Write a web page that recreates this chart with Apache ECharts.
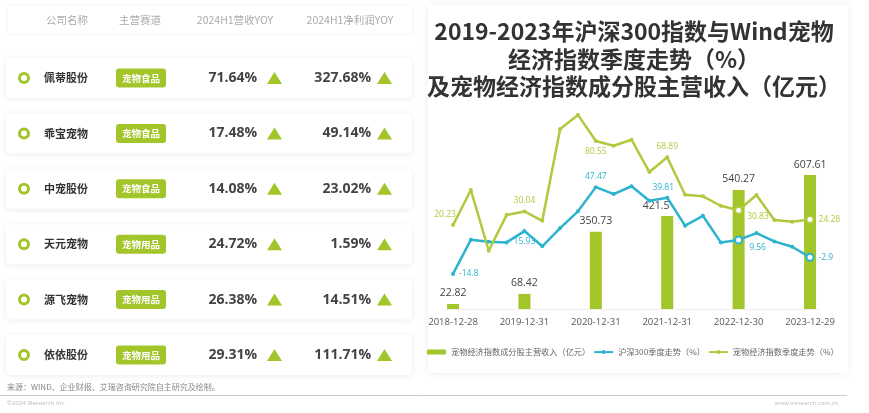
<!DOCTYPE html>
<html><head><meta charset="utf-8">
<script src="https://cdn.jsdelivr.net/npm/echarts@6/dist/echarts.min.js"></script>
<style>html,body{margin:0;padding:0;background:#fff}#c{width:869px;height:413px}</style>
</head><body><div id="c"></div>
<script>
// ---- Table data ----
const headers = ['公司名称', '主营赛道', '2024H1营收YOY', '2024H1净利润YOY'];
const companies = ['佩蒂股份', '乖宝宠物', '中宠股份', '天元宠物', '源飞宠物', '依依股份'];
const tracks = ['宠物食品', '宠物食品', '宠物食品', '宠物用品', '宠物用品', '宠物用品'];
const revenueYoy = [71.64, 17.48, 14.08, 24.72, 26.38, 29.31];
const profitYoy = [327.68, 49.14, 23.02, 1.59, 14.51, 111.71];

// ---- Chart data ----
const titleLines = ['2019-2023年沪深300指数与Wind宠物', '经济指数季度走势（%）', '及宠物经济指数成分股主营收入（亿元）'];
const dates = ['2018-12-28', '2019-03-29', '2019-06-28', '2019-09-30', '2019-12-31',
  '2020-03-31', '2020-06-30', '2020-09-30', '2020-12-31',
  '2021-03-31', '2021-06-30', '2021-09-30', '2021-12-31',
  '2022-03-31', '2022-06-30', '2022-09-30', '2022-12-30',
  '2023-03-31', '2023-06-30', '2023-09-28', '2023-12-29'];
const revenue = [22.82, '-', '-', '-', 68.42, '-', '-', '-', 350.73, '-', '-', '-', 421.5, '-', '-', '-', 540.27, '-', '-', '-', 607.61];
const csi300 = [-14.8, 9.7, 8.3, 7.8, 15.93, 5.0, 18.1, 30.1, 47.47, 42.5, 48.1, 37.7, 39.81, 19.8, 26.9, 7.8, 9.56, 14.5, 8.5, 4.7, -2.9];
const petIndex = [20.23, 45.4, 1.8, 27.4, 30.04, 23.3, 89.2, 99.3, 80.55, 77.2, 81.5, 58.3, 68.89, 42.0, 40.9, 34.1, 30.83, 41.8, 23.9, 22.6, 24.28];
const seriesNames = ['宠物经济指数成分股主营收入（亿元）', '沪深300季度走势（%）', '宠物经济指数季度走势（%）'];
const sourceText = '来源：WIND、企业财报、艾瑞咨询研究院自主研究及绘制。';
const copyrightText = '©2024 iResearch Inc.';
const siteText = 'www.iresearch.com.cn';

// ---- Styles ----
const GREEN = '#a2c52a';
const LINE_GREEN = '#b2c83f';
const BLUE = '#2bb3cf';
const CJK = '"Noto Sans CJK SC", "Noto Sans", sans-serif';
const NUM = '"Open Sans", "Noto Sans", sans-serif';

const blueLabels = {0: {position: 'right'}, 4: {position: 'bottom'}, 8: {position: 'top'}, 12: {position: 'top', offset: [-4, 0]}, 16: {position: 'right', offset: [2, 8]}, 20: {position: 'right'}};
const greenLabels = {0: {position: 'top', offset: [-8, 0]}, 4: {position: 'top'}, 8: {position: 'bottom'}, 12: {position: 'top'}, 16: {position: 'right', offset: [0, 6]}, 20: {position: 'right'}};
const hollow = [16, 20];

function lineData(arr, labels, color) {
  return arr.map((v, i) => {
    const item = {value: v};
    if (labels[i]) item.label = Object.assign({show: true, color: color, fontSize: 8.5, fontFamily: NUM, distance: 4}, labels[i]);
    if (hollow.indexOf(i) >= 0) { item.symbol = 'emptyCircle'; item.symbolSize = 7; }
    return item;
  });
}

const chart = echarts.init(document.getElementById('c'), null, {renderer: 'canvas'});

function renderRow(params, api) {
  const i = api.value(1);
  const y = api.coord([0, i])[1];
  const tri = (cx) => ({type: 'polygon', shape: {points: [[cx - 7.5, y + 6], [cx + 7.5, y + 6], [cx, y - 6]]}, style: {fill: GREEN}});
  return {
    type: 'group',
    children: [
      {type: 'rect', shape: {x: 6, y: y - 20, width: 406, height: 40, r: 4}, style: {fill: '#fff', shadowBlur: 6, shadowColor: 'rgba(0,0,0,0.08)', shadowOffsetY: 1}},
      {type: 'circle', shape: {cx: 24, cy: y, r: 4.5}, style: {fill: '#fff', stroke: GREEN, lineWidth: 3}},
      {type: 'text', style: {text: companies[i], x: 66, y: y, align: 'center', verticalAlign: 'middle', fill: '#333', font: 'bold 11px ' + CJK}},
      {type: 'rect', shape: {x: 116, y: y - 9.5, width: 50, height: 19, r: 3}, style: {fill: GREEN}},
      {type: 'text', style: {text: tracks[i], x: 141, y: y, align: 'center', verticalAlign: 'middle', fill: '#fff', font: 'bold 9.5px ' + CJK}},
      {type: 'text', style: {text: revenueYoy[i].toFixed(2) + '%', x: 257, y: y, align: 'right', verticalAlign: 'middle', fill: '#444', font: 'bold 14px ' + NUM}},
      tri(274.5),
      {type: 'text', style: {text: profitYoy[i].toFixed(2) + '%', x: 371, y: y, align: 'right', verticalAlign: 'middle', fill: '#444', font: 'bold 14px ' + NUM}},
      tri(384.5)
    ]
  };
}

const headerX = [67, 140, 235, 350];

const option = {
  animation: false,
  backgroundColor: '#fff',
  textStyle: {fontFamily: CJK},
  graphic: [
    {type: 'rect', shape: {x: 428, y: 5, width: 420, height: 368}, style: {fill: '#fff', shadowBlur: 8, shadowColor: 'rgba(0,0,0,0.07)'}},
    {type: 'rect', shape: {x: 8, y: 6, width: 404, height: 27}, style: {fill: '#fff', shadowBlur: 5, shadowColor: 'rgba(0,0,0,0.07)'}},
    ...headers.map((h, k) => ({type: 'text', style: {text: h, x: headerX[k], y: 20, align: 'center', verticalAlign: 'middle', fill: '#aaa', font: '10.5px ' + CJK}})),
    {type: 'text', style: {text: titleLines.join('\n'), x: 634, y: 18, align: 'center', verticalAlign: 'top', fill: '#333', font: 'bold 23px ' + CJK, lineHeight: 27.5}},
    {type: 'line', shape: {x1: 0, y1: 395.5, x2: 847, y2: 395.5}, style: {stroke: '#ccc', lineWidth: 1}},
    {type: 'text', style: {text: sourceText, x: 7, y: 387, align: 'left', verticalAlign: 'middle', fill: '#888', font: '8px ' + CJK}},
    {type: 'text', style: {text: copyrightText, x: 7, y: 403.5, align: 'left', verticalAlign: 'middle', fill: '#bbb', font: '6px ' + NUM}},
    {type: 'text', style: {text: siteText, x: 838, y: 403, align: 'right', verticalAlign: 'middle', fill: '#bbb', font: '6px ' + NUM}}
  ],
  legend: {
    data: seriesNames,
    left: 422, top: 343, width: 440,
    itemWidth: 19, itemHeight: 5, itemGap: 3,
    textStyle: {fontSize: 8.2, color: '#666'}
  },
  grid: [
    {left: 444.1, width: 374.85, top: 100, bottom: 104},
    {left: 0, width: 420, top: 50.3, height: 332.4}
  ],
  xAxis: [
    {type: 'category', gridIndex: 0, data: dates, boundaryGap: true,
      axisTick: {show: false}, axisLine: {lineStyle: {color: '#eee'}},
      axisLabel: {interval: 3, color: '#555', fontSize: 9.5, fontFamily: NUM, margin: 8}},
    {type: 'value', gridIndex: 1, min: 0, max: 1, show: false}
  ],
  yAxis: [
    {type: 'value', gridIndex: 0, min: 0, max: 948, show: false},
    {type: 'value', gridIndex: 0, min: -40, max: 110, show: false},
    {type: 'category', gridIndex: 1, data: companies, inverse: true, show: false}
  ],
  series: [
    {name: seriesNames[0], type: 'bar', xAxisIndex: 0, yAxisIndex: 0, barWidth: 12,
      data: revenue.map((v, i) => i === 12 ? {value: v, label: {offset: [-11, 0]}} : v),
      itemStyle: {color: GREEN},
      label: {show: true, position: 'top', distance: 5, color: '#444', fontSize: 10.5, fontFamily: NUM}},
    {name: seriesNames[1], type: 'line', xAxisIndex: 0, yAxisIndex: 1, data: lineData(csi300, blueLabels, BLUE),
      symbol: 'circle', symbolSize: 4, color: BLUE, lineStyle: {width: 2.5, color: BLUE}, clip: false},
    {name: seriesNames[2], type: 'line', xAxisIndex: 0, yAxisIndex: 1, data: lineData(petIndex, greenLabels, LINE_GREEN),
      symbol: 'circle', symbolSize: 4, color: LINE_GREEN, lineStyle: {width: 2.5, color: LINE_GREEN}, clip: false},
    {type: 'custom', xAxisIndex: 1, yAxisIndex: 2, renderItem: renderRow,
      data: companies.map((c, i) => [0, i]), encode: {x: 0, y: 1}, silent: true}
  ]
};
chart.setOption(option);
</script>
</body></html>
